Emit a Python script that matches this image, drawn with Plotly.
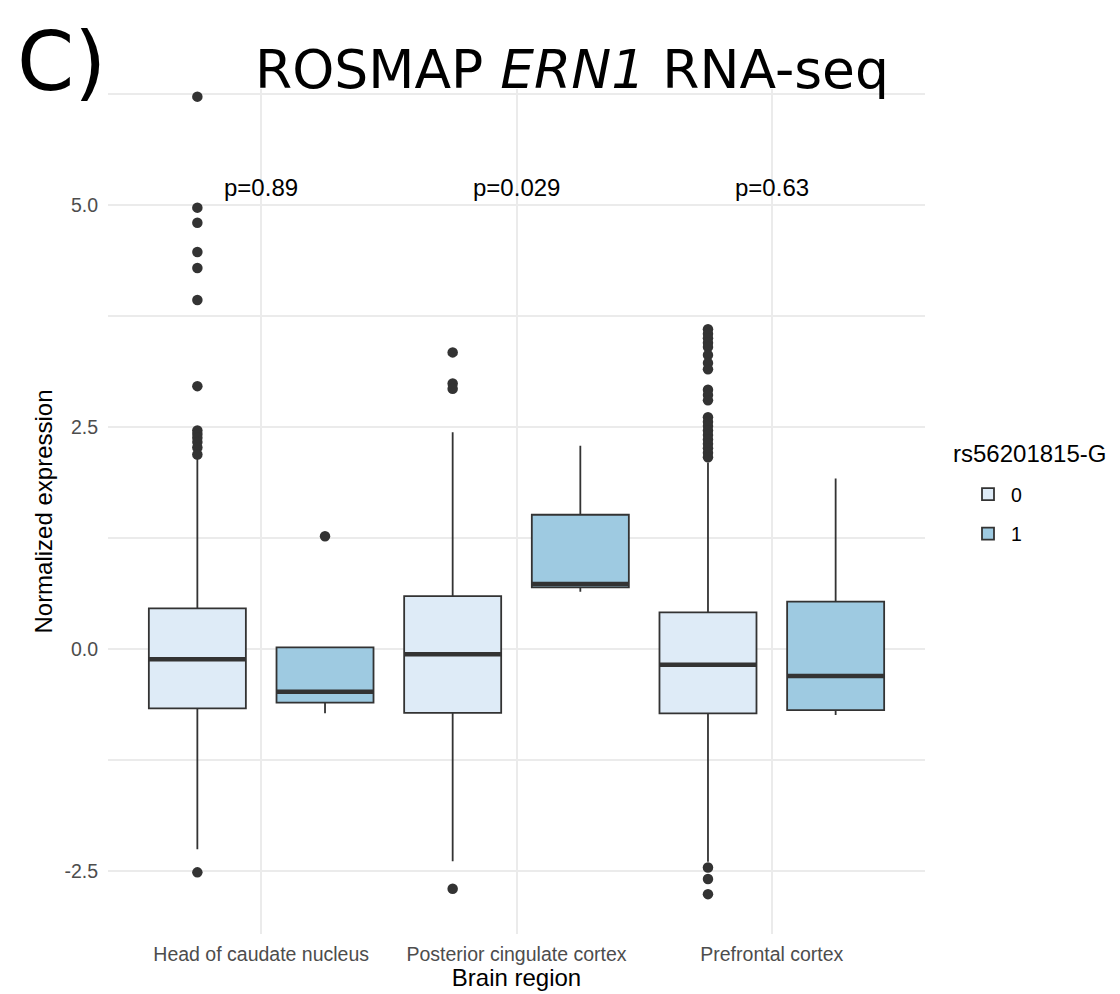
import plotly.graph_objects as go

# Brain regions (x categories) and genotype groups
regions = ["Head of caudate nucleus", "Posterior cingulate cortex", "Prefrontal cortex"]
genotypes = ["0", "1"]

# Box statistics per region, genotype 0
q1_g0 = [-0.668, -0.720, -0.725]
median_g0 = [-0.116, -0.060, -0.176]
q3_g0 = [0.457, 0.595, 0.413]
lower_g0 = [-2.256, -2.390, -2.395]
upper_g0 = [2.150, 2.440, 2.100]

# Box statistics per region, genotype 1
q1_g1 = [-0.604, 0.693, -0.687]
median_g1 = [-0.480, 0.732, -0.304]
q3_g1 = [0.019, 1.512, 0.533]
lower_g1 = [-0.724, 0.645, -0.743]
upper_g1 = [0.019, 2.290, 1.920]

# Outlying samples per region
outliers_g0 = [
    [6.22, 4.97, 4.80, 4.47, 4.29, 3.93, 2.96, 2.46, 2.42, 2.38, 2.33, 2.27, 2.19, -2.515],
    [3.34, 2.99, 2.93, -2.70],
    [3.60, 3.55, 3.50, 3.45, 3.40, 3.31, 3.22, 3.15, 2.92, 2.86, 2.80,
     2.61, 2.56, 2.51, 2.46, 2.41, 2.36, 2.31, 2.26, 2.21, 2.16,
     -2.46, -2.59, -2.76],
]
outliers_g1 = [[1.27], [], []]

# Wilcoxon p-values shown above each region
p_labels = ["p=0.89", "p=0.029", "p=0.63"]
p_label_y = 5.2

y_ticks = [-2.5, 0.0, 2.5, 5.0]
y_minor = [-1.25, 1.25, 3.75, 6.25]

stats = {
    "0": (q1_g0, median_g0, q3_g0, lower_g0, upper_g0, outliers_g0),
    "1": (q1_g1, median_g1, q3_g1, lower_g1, upper_g1, outliers_g1),
}

fill = {"0": "#deebf7", "1": "#9ecae1"}
ink = "#333333"
dodge = 0.25
box_w = 0.38
sans = "Liberation Sans, Arial, sans-serif"
title_font = "DejaVu Sans, Verdana, sans-serif"

W, H = 1120, 994
M = dict(l=108, r=195, t=89, b=60)
plot_w = W - M["l"] - M["r"]
plot_h = H - M["t"] - M["b"]


def paper_x(px):
    return (px - M["l"]) / plot_w


def paper_y(py):
    return (H - M["b"] - py) / plot_h


fig = go.Figure()

for gi, g in enumerate(genotypes):
    q1, med, q3, lo, hi, outs = stats[g]
    shift = (gi - 0.5) * 2 * dodge
    xs = [i + shift for i in range(len(regions))]

    fig.add_trace(go.Box(
        x=xs, q1=q1, median=med, q3=q3, lowerfence=lo, upperfence=hi,
        width=box_w, fillcolor=fill[g], line=dict(color=ink, width=1.8),
        whiskerwidth=0, boxpoints=False, name=g, legendgroup=g,
        hoverinfo="skip",
    ))

    # thicker median bars
    mx, my = [], []
    for x, m in zip(xs, med):
        mx += [x - box_w / 2, x + box_w / 2, None]
        my += [m, m, None]
    fig.add_trace(go.Scatter(
        x=mx, y=my, mode="lines", line=dict(color=ink, width=4.5),
        showlegend=False, hoverinfo="skip",
    ))

    # outliers
    ox, oy = [], []
    for x, vals in zip(xs, outs):
        ox += [x] * len(vals)
        oy += vals
    fig.add_trace(go.Scatter(
        x=ox, y=oy, mode="markers",
        marker=dict(color=ink, size=10.5, line=dict(width=0)),
        showlegend=False, hoverinfo="skip",
    ))

for i, lab in enumerate(p_labels):
    fig.add_annotation(
        x=i, y=p_label_y, xref="x", yref="y", text=lab, showarrow=False,
        font=dict(family=sans, size=24, color="black"),
        xanchor="center", yanchor="middle",
    )

# panel tag
fig.add_annotation(
    x=paper_x(61), y=paper_y(62), xref="paper", yref="paper", text="C)",
    showarrow=False, font=dict(family=title_font, size=82, color="black"),
    xanchor="center", yanchor="middle",
)

# legend title
fig.add_annotation(
    x=paper_x(951), y=paper_y(453), xref="paper", yref="paper", text="rs56201815-G",
    showarrow=False, font=dict(family=sans, size=24, color="black"),
    xanchor="left", yanchor="middle",
)

fig.update_layout(
    width=W, height=H,
    margin=dict(**M, autoexpand=False),
    plot_bgcolor="white", paper_bgcolor="white",
    title=dict(
        text="ROSMAP <i>ERN1</i> RNA-seq", x=572 / W, y=1 - 69 / H,
        xref="container", yref="container", xanchor="center", yanchor="middle",
        font=dict(family=title_font, size=53.5, color="black"),
    ),
    xaxis=dict(
        range=[-0.6, 2.6], tickvals=list(range(len(regions))), ticktext=regions,
        showgrid=True, gridcolor="#ebebeb", gridwidth=2, zeroline=False,
        showline=False, ticks="", ticklabelstandoff=6,
        tickfont=dict(family=sans, size=19.5, color="#4d4d4d"),
        title=dict(text="Brain region", font=dict(family=sans, size=24, color="black"),
                   standoff=5),
    ),
    yaxis=dict(
        range=[-3.209, 6.306], tickvals=y_ticks, ticktext=[f"{v:.1f}" for v in y_ticks],
        showgrid=True, gridcolor="#ebebeb", gridwidth=2, zeroline=False,
        showline=False, ticks="", ticklabelstandoff=9,
        tickfont=dict(family=sans, size=19.5, color="#4d4d4d"),
        minor=dict(tickvals=y_minor, showgrid=True, gridcolor="#ebebeb", gridwidth=1.6),
        title=dict(text="Normalized expression", font=dict(family=sans, size=24, color="black"),
                   standoff=4),
    ),
    legend=dict(
        font=dict(family=sans, size=19.5, color="black"),
        xref="container", yref="container", x=965 / W, y=1 - 475 / H,
        xanchor="left", yanchor="top", bgcolor="rgba(0,0,0,0)",
        tracegroupgap=11, itemwidth=36,
    ),
    showlegend=True,
)

fig.write_html("out.html")
